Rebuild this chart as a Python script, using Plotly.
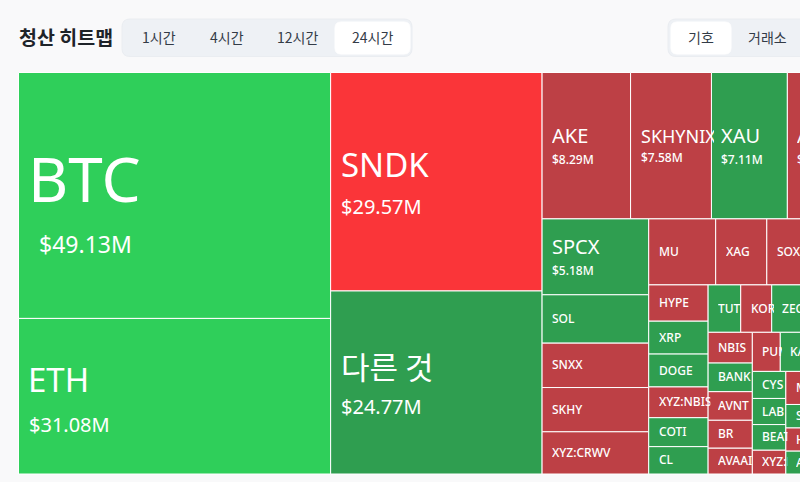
import plotly.graph_objects as go

W = 870
H = 482

# top controls
title_text = "청산 히트맵"
time_tabs = ["1시간", "4시간", "12시간", "24시간"]
group_tabs = ["기호", "거래소"]

# liquidation per symbol, in $M. the last ones run off the right edge so they are guesses
symbols = ["BTC", "ETH", "SNDK", "다른 것", "AKE", "SKHYNIX", "XAU", "ASTER",
           "SPCX", "SOL", "SNXX", "SKHY", "XYZ:CRWV",
           "MU", "XAG", "SOXL", "ORCL",
           "HYPE", "XRP", "DOGE", "XYZ:NBIS", "COTI", "CL",
           "TUT", "KORU", "ZEC", "ENA", "WIF",
           "NBIS", "BANK", "AVNT", "BR", "AVAAI",
           "PUMP", "KAITO", "LIT", "WLD",
           "CYS", "LAB", "BEAT", "XYZ:MU",
           "MON", "TIA", "ARB", "OP",
           "SUI", "HOOD", "ADA",
           "LINK", "TRUMP", "AAVE", "TAO", "BNB", "NEAR", "ONDO", "APT", "LTC", "DOT", "UNI", "PEPE"]
liq_values = [49.13, 31.08, 29.57, 24.77, 8.29, 7.58, 7.11, 6.90,
              5.18, 3.30, 3.03, 3.02, 2.88,
              2.83, 2.16, 2.10, 1.88,
              1.38, 1.25, 1.25, 1.17, 1.10, 1.04,
              0.99, 0.94, 0.93, 0.90, 0.88,
              0.87, 0.81, 0.81, 0.79, 0.73,
              0.70, 0.68, 0.67, 0.67,
              0.58, 0.56, 0.55, 0.51,
              0.49, 0.37, 0.37, 0.36,
              0.36, 0.355, 0.35,
              0.19, 0.19, 0.19, 0.19, 0.19, 0.19, 0.19, 0.19, 0.19, 0.19, 0.19, 0.19]
# L = long liquidated (green), S = short liquidated (red)
sides = ["L", "L", "S", "L", "S", "S", "L", "S",
         "L", "L", "S", "S", "S",
         "S", "S", "S", "S",
         "S", "L", "L", "S", "L", "L",
         "L", "S", "L", "S", "L",
         "S", "L", "S", "S", "S",
         "S", "L", "S", "L",
         "L", "L", "L", "S",
         "S", "L", "S", "L",
         "L", "S", "L",
         "S", "L", "S", "L", "S", "L", "S", "L", "S", "L", "S", "L"]

GREEN_HI = "#2fcf5a"
RED_HI = "#fa3539"
GREEN = "#2f9e50"
RED = "#bd4045"
FONT = "Noto Sans, Noto Sans CJK KR, sans-serif"
CJK = "Noto Sans CJK KR, sans-serif"

# heatmap box in pixels
LEFT, TOP, RIGHT, BOTTOM = 18.5, 72.5, 861, 474

# amount line sits a bit differently in the big cells
BIG_AMOUNT_DY = {"ETH": 28, "SNDK": 25, "다른 것": 24}


def cell_color(value, side):
    if value > 25:
        return GREEN_HI if side == "L" else RED_HI
    return GREEN if side == "L" else RED


# same row building as the treemap trace, only needed to know where labels go
def squarify(vals, x0, y0, x1, y1, ratio):
    boxes = []
    i = 0
    n = len(vals)
    left = sum(vals)
    while i < n:
        dx = x1 - x0
        dy = y1 - y0
        total = vals[i]
        lo = hi = total
        alpha = max(dy / dx, dx / dy) / (left * ratio)
        beta = total * total * alpha
        best = max(hi / beta, beta / lo)
        j = i + 1
        while j < n:
            v = vals[j]
            total += v
            lo = min(lo, v)
            hi = max(hi, v)
            beta = total * total * alpha
            r = max(hi / beta, beta / lo)
            if r > best:
                total -= v
                break
            best = r
            j += 1
        if dx < dy:
            yb = y0 + dy * total / left
            x = x0
            for v in vals[i:j]:
                boxes.append((x, y0, x + dx * v / total, yb))
                x += dx * v / total
            y0 = yb
        else:
            xb = x0 + dx * total / left
            y = y0
            for v in vals[i:j]:
                boxes.append((x0, y, xb, y + dy * v / total))
                y += dy * v / total
            x0 = xb
        left -= total
        i = j
    return boxes


def px(x):
    return x / W


def py(y):
    return 1 - y / H


def round_box(x0, y0, x1, y1, r, fill, line=None):
    path = (f"M{px(x0 + r)},{py(y0)} L{px(x1 - r)},{py(y0)} Q{px(x1)},{py(y0)} {px(x1)},{py(y0 + r)} "
            f"L{px(x1)},{py(y1 - r)} Q{px(x1)},{py(y1)} {px(x1 - r)},{py(y1)} "
            f"L{px(x0 + r)},{py(y1)} Q{px(x0)},{py(y1)} {px(x0)},{py(y1 - r)} "
            f"L{px(x0)},{py(y0 + r)} Q{px(x0)},{py(y0)} {px(x0 + r)},{py(y0)} Z")
    return dict(type="path", path=path, xref="paper", yref="paper", fillcolor=fill,
                line=dict(color=line or fill, width=1), layer="below")


def text_at(x, y, s, size, color="#ffffff", family=FONT, anchor="center", width=None, weight=400):
    return dict(x=px(x), y=py(y), xref="paper", yref="paper", text=s, showarrow=False,
                xanchor=anchor, yanchor="middle", align="left", width=width,
                font=dict(size=size, color=color, family=family, weight=weight))


colors = [cell_color(v, s) for v, s in zip(liq_values, sides)]

fig = go.Figure(go.Treemap(
    labels=symbols,
    parents=[""] * len(symbols),
    values=liq_values,
    marker=dict(colors=colors, line=dict(color="#ffffff", width=1), pad=dict(t=0, l=0, r=0, b=0)),
    tiling=dict(packing="squarify", squarifyratio=1.618, pad=0),
    textinfo="none",
    pathbar=dict(visible=False),
    sort=True,
    domain=dict(x=[px(LEFT), px(RIGHT)], y=[py(BOTTOM), py(TOP)]),
))

shapes = [
    round_box(122, 19, 412, 56.5, 8, "#eef1f5", "#eaedf1"),
    round_box(335, 22, 410, 54, 6, "#ffffff"),
    round_box(668, 19, 880, 56.5, 8, "#eef1f5", "#eaedf1"),
    round_box(671, 22, 731, 54, 6, "#ffffff"),
]

annotations = [text_at(17, 37, "<b>" + title_text + "</b>", 19.5, "#1e2329", CJK, "left")]
for name, cx in zip(time_tabs, [158.5, 226.5, 297.5, 372.5]):
    annotations.append(text_at(cx, 37.5, name, 14, "#333b47", CJK))
for name, cx in zip(group_tabs, [701, 767]):
    annotations.append(text_at(cx, 37.5, name, 14, "#333b47", CJK))

boxes = squarify(liq_values, LEFT, TOP, RIGHT, BOTTOM, 1.618)
for i, (name, value, box) in enumerate(zip(symbols, liq_values, boxes)):
    x0, y0, x1, y1 = box
    if x0 > 800:
        continue  # outside the window
    cy = (y0 + y1) / 2
    cw = x1 - x0 - 8
    amount = f"${value:.2f}M"
    fam = CJK if name == "다른 것" else FONT
    if value > 40:
        annotations.append(text_at(x0 + 7, cy - 17, name, 62, anchor="left", family=fam))
        annotations.append(text_at(x0 + 18, cy + 49, amount, 23, anchor="left"))
    elif value > 20:
        size = 31 if fam == CJK else 33
        lx = x0 + 7.5 if name == "ETH" else x0 + 8
        annotations.append(text_at(lx, cy - 17, name, size, anchor="left", family=fam))
        annotations.append(text_at(x0 + 8, cy + BIG_AMOUNT_DY[name], amount, 20, anchor="left"))
    elif value > 5:
        size = 18 if len(name) > 5 else 20
        vy = cy + 12 if len(name) > 5 else cy + 14
        annotations.append(text_at(x0 + 8, cy - 10, name, size, anchor="left", width=cw))
        annotations.append(text_at(x0 + 8, vy, amount, 12, anchor="left", weight=500))
    else:
        annotations.append(text_at(x0 + 8, cy - 0.5, name, 12, anchor="left", width=cw, weight=500))

fig.update_layout(
    width=W,
    height=H,
    margin=dict(l=0, r=0, t=0, b=0),
    paper_bgcolor="#f9f9fa",
    shapes=shapes,
    annotations=annotations,
    showlegend=False,
)

fig.write_html("out.html", post_script="document.body.style.margin='0';document.body.style.overflow='hidden';")
